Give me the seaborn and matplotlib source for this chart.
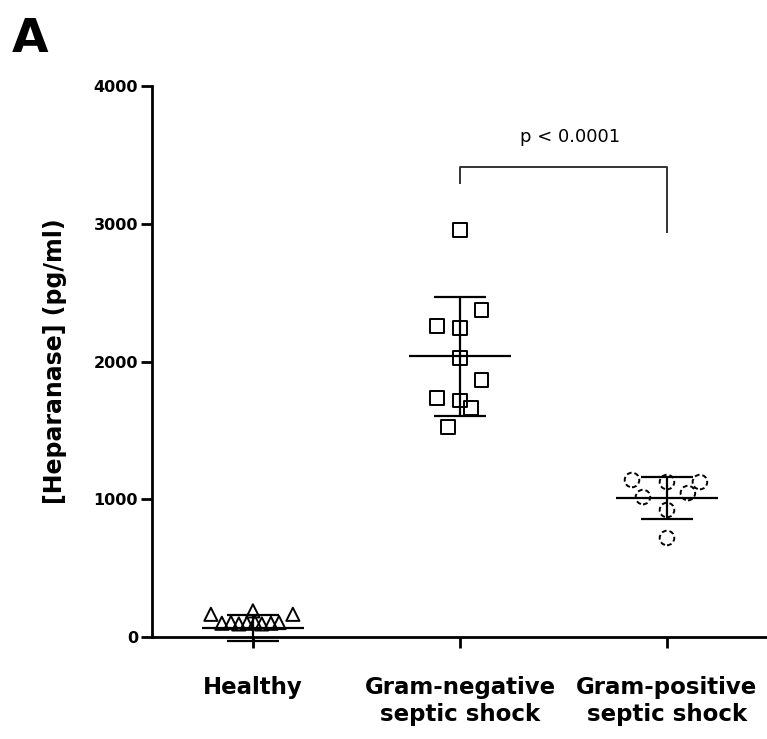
import numpy as np
import pandas as pd
import matplotlib
matplotlib.use("Agg")
import matplotlib.pyplot as plt
import seaborn as sns

# ---- data ----
categories = ["Healthy", "Gram-negative\nseptic shock", "Gram-positive\nseptic shock"]

healthy_values = [165, 190, 165, 100, 105, 95, 100, 105, 95, 100, 105]
healthy_offsets = [-0.203, 0.0, 0.193, -0.150, -0.106, -0.068, -0.029, 0.010, 0.043, 0.087, 0.126]

gneg_values = [2955, 2374, 2258, 2243, 2025, 1866, 1735, 1720, 1662, 1524]
gneg_offsets = [0.0, 0.106, -0.111, 0.0, 0.0, 0.106, -0.111, 0.0, 0.053, -0.058]

gpos_values = [1140, 1125, 1125, 1016, 1045, 922, 719]
gpos_offsets = [-0.169, 0.0, 0.159, -0.116, 0.101, 0.0, 0.0]

group_means = [65, 2040, 1010]
group_sds = [97, 432, 152]

yticks = [0, 1000, 2000, 3000, 4000]
bracket_y = [3289, 3412, 3412, 2933]
p_label = "p < 0.0001"

# ---- build table ----
frames = []
for i, (vals, offs) in enumerate([(healthy_values, healthy_offsets),
                                   (gneg_values, gneg_offsets),
                                   (gpos_values, gpos_offsets)]):
    frames.append(pd.DataFrame({"xpos": np.array(offs) + i,
                                "value": vals,
                                "group": categories[i]}))
df = pd.concat(frames, ignore_index=True)

sns.set_style("ticks")
plt.rcParams["font.family"] = ["DejaVu Sans"]
plt.rcParams["text.color"] = "black"
plt.rcParams["axes.labelcolor"] = "black"
plt.rcParams["xtick.color"] = "black"
plt.rcParams["ytick.color"] = "black"

fig = plt.figure(figsize=(7.67, 7.39), dpi=100)
ax = fig.add_axes([0.198, 0.138, 0.802, 0.7456])

styles = [("^", 90, "-"), ("s", 90, "-"), ("o", 110, (0, (2.5, 1.5)))]
for i, (mk, sz, ls) in enumerate(styles):
    sub = df[df["group"] == categories[i]]
    sns.scatterplot(data=sub, x="xpos", y="value", marker=mk, s=sz, ax=ax,
                    legend=False, color="black")
    coll = ax.collections[-1]
    coll.set_facecolor("none")
    coll.set_edgecolor("black")
    coll.set_linewidth(1.4)
    coll.set_linestyle(ls)
    coll.set_clip_on(False)
    coll.set_zorder(2)

xc = np.arange(len(categories))
ax.errorbar(xc, group_means, yerr=group_sds, fmt="none", ecolor="black",
            elinewidth=1.6, capsize=18.5, capthick=1.6, zorder=3, clip_on=False)
ax.hlines(group_means, xc - 0.245, xc + 0.245, color="black", lw=1.6, zorder=3)

# significance bracket
ax.plot([1, 1, 2, 2], bracket_y, color="#333333", lw=1.4, solid_capstyle="butt")
ax.text(1.53, 3594, p_label, ha="center", va="baseline", fontsize=13, color="black")

ax.set_xlim(-0.488, 2.483)
ax.set_ylim(0, 4000)
ax.set_xticks(xc)
ax.set_xticklabels(categories, fontsize=16.5, fontweight="bold", linespacing=1.2,
                   color="black")
ax.set_yticks(yticks)
ax.set_yticklabels([str(t) for t in yticks], fontsize=11.5, fontweight="bold",
                   color="black")
ax.set_xlabel("")
ax.set_ylabel("[Heparanase] (pg/ml)", fontsize=17, fontweight="bold", va="center",
              color="black")
ax.yaxis.set_label_coords(-0.158, 0.5)

for side in ["top", "right"]:
    ax.spines[side].set_visible(False)
for side in ["left", "bottom"]:
    ax.spines[side].set_linewidth(2.0)
    ax.spines[side].set_color("black")
ax.tick_params(axis="y", length=8, width=2, pad=2, colors="black")
ax.tick_params(axis="x", length=8, width=2, pad=20, colors="black")

fig.text(12 / 767, 1 - 52 / 739, "A", fontsize=34, fontweight="bold",
         ha="left", va="baseline", color="black")

fig.savefig("out.png", dpi=100)
